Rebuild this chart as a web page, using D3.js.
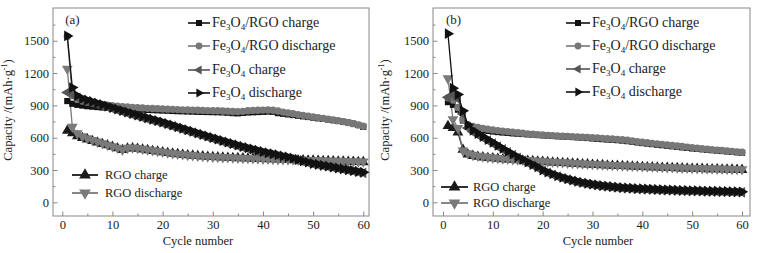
<html>
<head>
<meta charset="UTF-8"/>
<script src="https://d3js.org/d3.v7.min.js"></script>
<title>Cycling capacity</title>
<style>
body{ margin:0; background:#fff; }
svg, text{ font-family:'Liberation Serif','Times New Roman',serif; }
.tick text{ font-size:12.5px; fill:#222; font-family:'Liberation Serif',serif; }
.tick line{ stroke:#888; }
.leg text{ font-size:14px; fill:#222; }
.leg text.small{ font-size:12.5px; }
</style>
</head>
<body>
<svg id='chart' width=761 height=253></svg>
<script>
'use strict';

var cycles = d3.range(1, 61);
var yTicks = [0, 300, 600, 900, 1200, 1500];
var xTicks = [0, 10, 20, 30, 40, 50, 60];

// panel (a)
var a_feRgoCharge = [940,915,905,898,892,888,884,880,877,874,871,868,866,864,862,860,858,856,854,852,
  850,848,846,845,843,842,840,839,838,837,836,835,832,828,826,830,834,836,838,840,
  842,840,828,822,816,810,804,798,792,786,780,774,768,762,755,748,740,730,718,700];
var a_feRgoDischarge = [1540,990,955,940,930,922,915,908,903,898,893,889,885,882,879,876,873,871,869,867,
  865,863,861,859,857,856,855,853,852,851,850,848,846,843,842,845,850,853,855,856,
  857,855,848,838,830,822,815,808,800,793,786,779,772,765,758,750,740,730,718,706];
var a_feCharge = [1020,1005,970,950,936,922,908,894,881,868,854,840,826,812,798,785,772,759,746,733,
  718,704,690,676,661,647,632,618,604,590,576,562,548,535,521,509,497,485,474,462,
  452,442,432,422,412,401,389,377,366,355,346,338,329,321,313,305,297,289,281,273];
var a_feDischarge = [1545,1065,990,962,948,934,920,906,893,880,866,852,838,824,810,797,784,771,758,745,
  730,716,701,687,672,658,643,629,614,600,586,572,558,544,530,518,506,494,482,470,
  460,450,440,430,420,408,396,384,372,360,352,343,335,326,318,310,302,294,286,278];
var a_rgoCharge = [665,642,615,598,585,570,556,543,530,516,502,486,500,503,498,491,485,478,472,466,
  459,453,448,443,438,434,430,427,424,421,419,417,415,413,411,409,408,406,404,403,
  401,400,398,397,395,394,392,391,389,388,386,385,383,382,380,379,378,376,375,374];
var a_rgoDischarge = [1240,700,640,612,595,578,563,548,534,520,506,488,505,508,503,496,489,482,475,468,
  461,455,450,445,440,436,432,429,426,423,421,419,417,415,413,411,410,408,406,405,
  403,402,400,399,397,396,394,393,391,390,389,388,386,385,384,383,381,380,379,378];

// panel (b)
var b_feRgoCharge = [930,905,860,760,700,688,678,670,663,657,652,648,644,640,637,634,631,628,625,622,
  619,616,613,611,608,606,603,600,597,593,589,586,583,580,577,573,568,562,556,550,
  545,540,535,530,525,520,515,510,505,500,496,492,488,484,480,476,472,468,464,460];
var b_feRgoDischarge = [970,950,880,770,720,705,695,686,679,672,666,661,656,651,646,641,636,632,628,625,
  622,620,617,615,612,610,608,605,603,600,597,594,591,588,585,581,576,570,564,558,
  553,548,543,538,533,528,523,518,513,508,503,498,494,489,485,481,477,473,469,465];
var b_feCharge = [975,1000,960,820,690,655,626,598,572,545,518,491,464,438,413,388,364,341,319,292,
  273,255,238,223,210,198,187,178,170,162,156,150,145,140,136,132,129,126,123,121,
  119,117,115,113,111,110,108,107,105,104,103,101,100,99,98,97,96,95,94,92];
var b_feDischarge = [1565,1060,1000,850,720,668,638,610,583,556,528,500,473,447,422,397,373,350,328,300,
  281,263,246,231,217,205,194,184,176,168,161,155,150,145,141,137,134,131,128,126,
  124,122,120,118,116,115,113,112,110,109,108,106,105,104,103,102,101,100,99,97];
var b_rgoCharge = [710,690,650,490,445,432,424,418,413,409,405,401,398,395,392,389,386,383,380,377,
  374,371,368,366,363,360,358,355,353,350,348,346,343,341,339,337,335,333,331,329,
  327,326,324,322,321,319,318,316,315,313,312,311,309,308,307,306,305,304,303,302];
var b_rgoDischarge = [1150,770,690,480,455,440,431,424,419,414,410,406,403,400,397,394,391,388,385,382,
  379,376,373,371,368,365,363,360,358,355,353,351,348,346,344,342,340,338,336,334,
  332,331,329,327,326,324,323,321,320,318,317,316,314,313,312,311,310,309,308,307];

var seriesStyle = [
  {key:'rgoCharge',     sym:d3.symbolTriangle, rot:0,   color:'#1a1a1a'},
  {key:'rgoDischarge',  sym:d3.symbolTriangle, rot:180, color:'#7a7a7a'},
  {key:'feRgoCharge',   sym:d3.symbolSquare,   rot:0,   color:'#111'},
  {key:'feRgoDischarge',sym:d3.symbolCircle,   rot:0,   color:'#777'},
  {key:'feCharge',      sym:d3.symbolTriangle, rot:-90, color:'#555'},
  {key:'feDischarge',   sym:d3.symbolTriangle, rot:90,  color:'#111'}
];
var symSize = {feRgoCharge:38, feRgoDischarge:42};

var panels = [
  {label:'(a)', left:53, right:369, x0:-1.85, x1:61.14, yTitleX:12, xTitleX:198,
   data:{feRgoCharge:a_feRgoCharge, feRgoDischarge:a_feRgoDischarge, feCharge:a_feCharge,
         feDischarge:a_feDischarge, rgoCharge:a_rgoCharge, rgoDischarge:a_rgoDischarge},
   legTop:{lx:188, tx:212, ys:[23,46,70,93]},
   legBot:{lx:72, w:26, tx:105, ys:[175,193]}},
  {label:'(b)', left:433, right:750, x0:-2.0, x1:61.6, yTitleX:389, xTitleX:598,
   data:{feRgoCharge:b_feRgoCharge, feRgoDischarge:b_feRgoDischarge, feCharge:b_feCharge,
         feDischarge:b_feDischarge, rgoCharge:b_rgoCharge, rgoDischarge:b_rgoDischarge},
   legTop:{lx:566, tx:592, ys:[23,46,69,92]},
   legBot:{lx:441, w:27, tx:473, ys:[187,203]}}
];

var plotTop = 8, plotBottom = 216;
var svg = d3.select('#chart');

function sym(s, size){
  return d3.symbol().type(s.sym).size(size || symSize[s.key] || 50)();
}

function fe(t, rest){
  t.append('tspan').text('Fe');
  t.append('tspan').attr('font-size', '9px').attr('dy', 3).text('3');
  t.append('tspan').attr('dy', -3).text('O');
  t.append('tspan').attr('font-size', '9px').attr('dy', 3).text('4');
  t.append('tspan').attr('dy', -3).text(rest);
}

panels.forEach(function(p){
  var sx = d3.scaleLinear().domain([p.x0, p.x1]).range([p.left, p.right]);
  var sy = d3.scaleLinear().domain([-127, 1804]).range([plotBottom, plotTop]);
  var g = svg.append('g');

  // minor ticks
  var xMinor = d3.axisBottom(sx).tickValues([5,15,25,35,45,55]).tickSize(-2.5).tickFormat('');
  var yMinor = d3.axisLeft(sy).tickValues([150,450,750,1050,1350,1650]).tickSize(-2.5).tickFormat('');
  g.append('g').attr('transform','translate(0,' + plotBottom + ')').call(xMinor).select('.domain').remove();
  g.append('g').attr('transform','translate(' + p.left + ',0)').call(yMinor).select('.domain').remove();

  var xAxis = d3.axisBottom(sx).tickValues(xTicks).tickSize(-4.5).tickPadding(4).tickFormat(d3.format('d'));
  var yAxis = d3.axisLeft(sy).tickValues(yTicks).tickSize(-4.5).tickPadding(4).tickFormat(d3.format('d'));
  g.append('g').attr('transform','translate(0,' + plotBottom + ')').call(xAxis).select('.domain').remove();
  g.append('g').attr('transform','translate(' + p.left + ',0)').call(yAxis).select('.domain').remove();

  g.append('rect').attr('x', p.left).attr('y', plotTop)
    .attr('width', p.right - p.left).attr('height', plotBottom - plotTop)
    .attr('fill', 'none').attr('stroke', '#888').attr('stroke-width', 1);

  var line = d3.line().x(function(d, i){ return sx(cycles[i]); }).y(function(d){ return sy(d); });

  seriesStyle.forEach(function(s){
    var vals = p.data[s.key];
    g.append('path').datum(vals).attr('d', line)
      .attr('fill', 'none').attr('stroke', s.color).attr('stroke-width', 1.3);
    g.selectAll(null).data(vals).enter().append('path')
      .attr('d', sym(s))
      .attr('transform', function(d, i){
        return 'translate(' + sx(cycles[i]) + ',' + sy(d) + ') rotate(' + s.rot + ')';
      })
      .attr('fill', s.color);
  });

  // panel label
  g.append('text').attr('x', sx(0) + 3).attr('y', 24).attr('font-size', '13px')
    .attr('fill', '#222').text(p.label);

  // axis titles
  g.append('text').attr('x', p.xTitleX).attr('y', 245)
    .attr('text-anchor', 'middle').attr('font-size', '12.5px').attr('fill', '#222')
    .text('Cycle number');
  var yt = g.append('text').attr('transform', 'translate(' + p.yTitleX + ',' + 110 + ') rotate(-90)')
    .attr('text-anchor', 'middle').attr('font-size', '12.5px').attr('fill', '#222');
  yt.append('tspan').text('Capacity  /(mAh\u00b7g');
  yt.append('tspan').attr('font-size', '8px').attr('dy', -5).text('-1');
  yt.append('tspan').attr('dy', 5).text(')');

  // legends
  var topKeys = ['feRgoCharge', 'feRgoDischarge', 'feCharge', 'feDischarge'];
  var topRest = ['/RGO charge', '/RGO discharge', ' charge', ' discharge'];
  var leg = g.append('g').attr('class', 'leg');
  topKeys.forEach(function(k, i){
    var s = seriesStyle.find(function(d){ return d.key === k; });
    var y = p.legTop.ys[i];
    leg.append('line').attr('x1', p.legTop.lx).attr('x2', p.legTop.tx - 2)
      .attr('y1', y).attr('y2', y).attr('stroke', s.color).attr('stroke-width', 1.6);
    leg.append('path').attr('d', sym(s, 36))
      .attr('transform', 'translate(' + ((p.legTop.lx + p.legTop.tx - 2) / 2) + ',' + y + ') rotate(' + s.rot + ')')
      .attr('fill', s.color);
    var t = leg.append('text').attr('x', p.legTop.tx).attr('y', y + 4);
    fe(t, topRest[i]);
  });
  var botKeys = ['rgoCharge', 'rgoDischarge'];
  var botText = ['RGO charge', 'RGO discharge'];
  botKeys.forEach(function(k, i){
    var s = seriesStyle.find(function(d){ return d.key === k; });
    var y = p.legBot.ys[i];
    leg.append('line').attr('x1', p.legBot.lx).attr('x2', p.legBot.lx + p.legBot.w)
      .attr('y1', y).attr('y2', y).attr('stroke', s.color).attr('stroke-width', 1.8);
    leg.append('path').attr('d', sym(s, 60))
      .attr('transform', 'translate(' + (p.legBot.lx + p.legBot.w / 2) + ',' + y + ') rotate(' + s.rot + ')')
      .attr('fill', s.color);
    leg.append('text').attr('class', 'small').attr('x', p.legBot.tx).attr('y', y + 4).text(botText[i]);
  });
});
</script>
</body>
</html>
